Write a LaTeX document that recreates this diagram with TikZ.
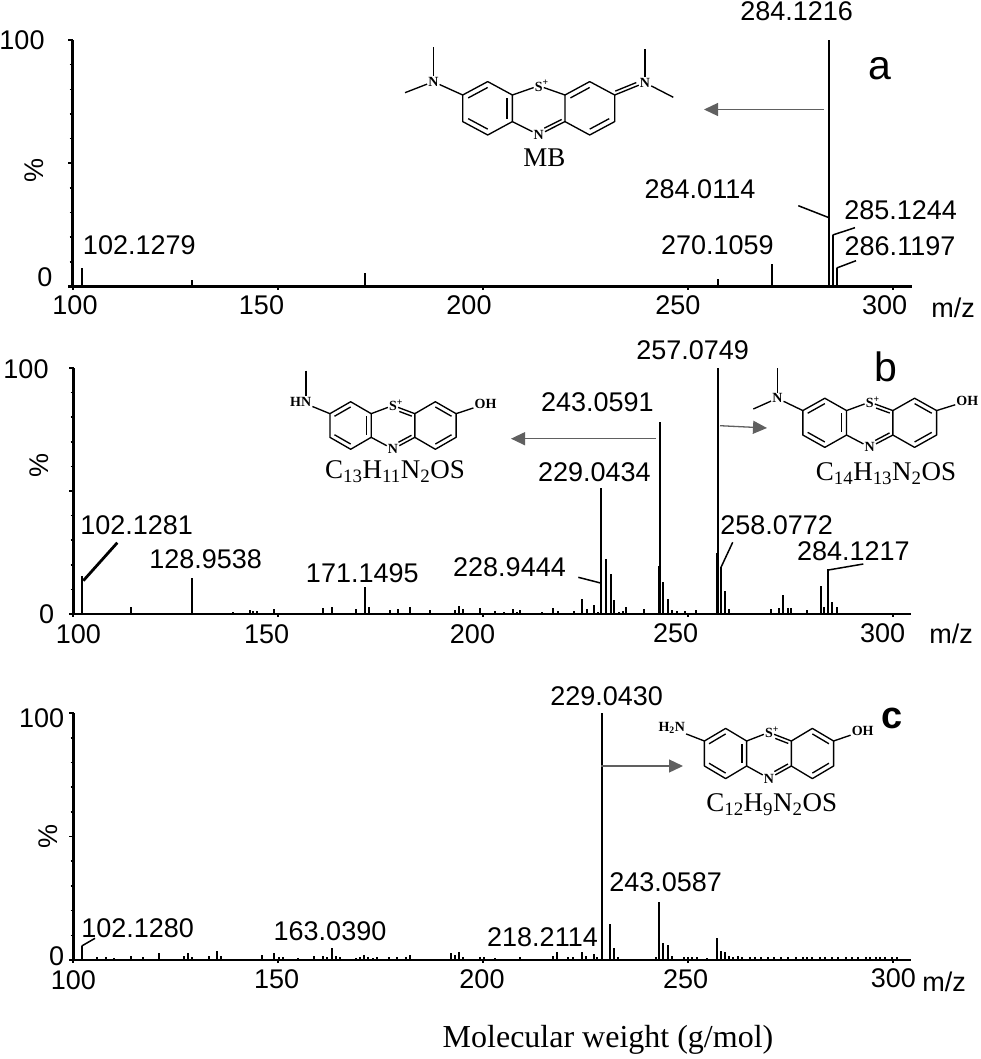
\documentclass[tikz,border=0pt]{standalone}
\usepackage{fontspec}
\setmainfont{Liberation Sans}
\newfontfamily\molfont{Liberation Serif}
\usetikzlibrary{arrows.meta}
\usetikzlibrary{calc}
\definecolor{arrowgray}{HTML}{606060}

% scaffold shared by all the structures: name, centre x, centre y, xscale, yscale
\newcommand{\ringcore}[5]{
 \begin{scope}[shift={(#2,#3)}, xscale=#4, yscale=#5]
  \coordinate (#1_l1) at (-76,-13.3);
  \coordinate (#1_l2) at (-51,-26.7);
  \coordinate (#1_l3) at (-26.3,-13.3);
  \coordinate (#1_l4) at (-26.3,13.3);
  \coordinate (#1_l5) at (-51,26.7);
  \coordinate (#1_l6) at (-76,13.3);
  \coordinate (#1_lc) at (-51,0);
  \coordinate (#1_r1) at (26.3,-13.3);
  \coordinate (#1_r2) at (51,-26.7);
  \coordinate (#1_r3) at (76,-13.3);
  \coordinate (#1_r4) at (76,13.3);
  \coordinate (#1_r5) at (51,26.7);
  \coordinate (#1_r6) at (26.3,13.3);
  \coordinate (#1_rc) at (51,0);
  \node [atom] (#1_S) at (0,-22.5) {S\rlap{\textsuperscript{+}}};
  \node [atom] (#1_N) at (0,26.5) {N};
 \end{scope}
 \draw [bond, line join=round] (#1_l1) -- (#1_l2) -- (#1_l3) -- (#1_l4) -- (#1_l5) -- (#1_l6) -- cycle;
 \draw [bond, line join=round] (#1_r1) -- (#1_r2) -- (#1_r3) -- (#1_r4) -- (#1_r5) -- (#1_r6) -- cycle;
 \draw [bond] (#1_S) -- (#1_l3);
 \draw [bond] (#1_N) -- (#1_l4);
 \draw [bond] (#1_S) -- (#1_r1);
 \draw [bond] (#1_N) -- (#1_r6);
 \inbond{#1_lc}{#1_l1}{#1_l2}
 \inbond{#1_lc}{#1_l3}{#1_l4}
 \inbond{#1_lc}{#1_l5}{#1_l6}
 \outbond{#1_N}{#1_r6}{3.4pt}
}
\newcommand{\inbond}[3]{\draw [bond] ($(#1)!.78!(#2)$) -- ($(#1)!.78!(#3)$);}
\newcommand{\outbond}[3]{\draw [bond, shorten <=8pt, shorten >=2pt] ($(#1)!#3!90:(#2)$) -- ($(#2)!#3!-90:(#1)$);}

\begin{document}
\begin{tikzpicture}[x=1pt, y=-1pt,
  axisline/.style={line width=2.2pt},
  peak/.style={line width=1.9pt},
  leader/.style={line width=1.5pt},
  bond/.style={line width=1.35pt},
  paths/.style={-{Triangle[length=14pt,width=13pt]}, line width=1.3pt, draw=arrowgray},
  mass/.style={inner sep=0pt, font=\fontsize{27}{30}\selectfont},
  tag/.style={inner sep=0pt, font=\fontsize{41}{44}\selectfont},
  formula/.style={inner sep=0pt, font=\molfont\fontsize{27}{30}\selectfont},
  atom/.style={inner sep=1pt, font=\molfont\bfseries\fontsize{14}{15}\selectfont}]

 \useasboundingbox (0,0) rectangle (980,1059);

 % axes of the three spectra
 \foreach \axx/\axtop/\axbase/\axend in {72.5/40/286.5/912, 73.5/368/614/911, 73.5/713/960/911} {
   \draw [axisline] (\axx,\axtop) -- (\axx,\axbase);
   \draw [axisline] (\axx-4.5,\axbase) -- (\axend,\axbase);
   \foreach \tick in {0,10,...,100} {
     \pgfmathsetmacro{\ticky}{\axbase+(\axtop-\axbase)*(\tick/100)}
     \draw [line width=1.6pt] (\axx-3,\ticky) -- (\axx,\ticky);
   }
   \draw [line width=1.6pt] (\axx-4.5,\axtop) -- (\axx,\axtop);
   \draw [line width=1.6pt] (\axx-4.5,{(\axtop+\axbase)/2}) -- (\axx,{(\axtop+\axbase)/2});
   \foreach \tx in {73,278,483,688,893}
     \draw [line width=1.6pt] (\tx,\axbase) -- (\tx,\axbase+3);
 }

 % spectrum a
 \foreach \px/\ptop in {81.7/268, 191.7/280, 365/273, 718.3/279.3, 771.7/264.3,
   829/40, 832.7/235, 836.7/268}
   \draw [peak] (\px,286.5) -- (\px,\ptop);

 % spectrum b
 \foreach \px/\ptop in {82/576, 131/606.7, 192.3/578.3, 233.3/612.3, 250/610, 253.3/611,
   257.3/611, 274/608.7, 323.3/608.3, 332.3/607.3, 356/608.7, 365.3/586.7, 369/607.3,
   390/610, 397.7/609.3, 410/607.3, 430/610, 455/610, 459.3/606, 463.3/609.3, 480/608.3,
   495/610.7, 504/611.7, 512.7/609.3, 516.7/611.7, 520/610, 541.7/612, 553.3/607.7,
   558.3/611, 574/610.7, 582.3/599.3, 586.7/608.7, 594.3/605.3, 598.3/611.7, 601/488.3,
   606/559, 610.7/574.3, 614.3/600, 619/611.7, 623.3/610.7, 626/607.3, 644.3/609.3,
   659/566, 660.3/422.3, 663.3/581.7, 667.7/599.3, 672.3/610, 676.7/611, 685/610.7,
   696/610, 716.7/552.7, 717.7/367.7, 721/566.7, 725.3/591, 729.3/609.3, 770.7/609,
   778.7/607.7, 783/595, 787.7/608.3, 790.7/607.7, 807.3/610, 820.7/585.7, 824.3/607.3,
   828.3/569.3, 832/602.3, 836.7/607.3}
   \draw [peak] (\px,614) -- (\px,\ptop);

 % spectrum c
 \foreach \px/\ptop in {81.7/946, 97.3/956.7, 106/956.7, 114.3/957.7, 130.7/956, 142.7/957,
   159.3/953.3, 184/956, 188.3/953.3, 192.3/956.7, 209.3/956, 216.7/951, 221/956,
   261.7/955.3, 274/952.7, 279.3/956.7, 282.7/957.3, 298.3/957.7, 314.3/956, 323.3/956,
   327.3/957.3, 331.7/947.7, 336/956, 340/957.3, 356/957.7, 360/957.3, 364.3/955.3,
   368.3/957.3, 372.7/957.7, 376.7/957.3, 389.3/956.7, 397.3/956.7, 406/956.7, 410/955,
   450.7/953.3, 455/955, 459.3/951.7, 463.3/956.7, 480/957.3, 484/956.7, 495/957.7,
   520/957.3, 552.7/955.7, 557.3/952, 568.3/957.3, 573.3/956.7, 581.7/952, 586/956,
   594/954, 597.3/957.3, 601.7/713.3, 610/924.3, 614/948.3, 618.3/956.7, 655.7/956.7,
   659/901.7, 663.3/943.3, 667.7/945, 671.7/956, 684.3/957.3, 688.3/957.3, 692.3/957.3,
   696.7/957.3, 707.3/957.7, 716.7/938.3, 720.7/951, 725/951.7, 729.3/956, 733.3/956.7,
   737.7/955.7, 742/957.3}
   \draw [peak] (\px,960) -- (\px,\ptop);
 \foreach \px in {750,755,761,768,774,781,788,796,803,807,812,820,825,832,838,846,852,858,
   866,870,876,880,885,892,897}
   \draw [line width=1.3pt] (\px,960) -- (\px,957.3);

 % axis numbers and names
 \foreach \lx/\ly/\ltext/\lname in {22/40/100/a100, 45/277/0/a0, 75/305/100/ax1, 261.5/305/150/ax2,
   469/305/200/ax3, 677.8/305/250/ax4, 884.7/305/300/ax5,
   26/369/100/b100, 46.7/614.3/0/b0, 78.3/634/100/bx1, 266.7/634/150/bx2,
   472.5/634/200/bx3, 675.7/633/250/bx4, 882.7/633/300/bx5,
   41.7/718.3/100/c100, 56.7/956/0/c0, 73.3/980/100/cx1, 276.7/979.3/150/cx2,
   482/979.3/200/cx3, 685.7/979.3/250/cx4, 893.3/978.3/300/cx5}
   \node [mass] (num_\lname) at (\lx,\ly) {\ltext};

 \node [mass] (mz_a) at (953,308) {m/z};
 \node [mass] (mz_b) at (951,634) {m/z};
 \node [mass] (mz_c) at (944,981.7) {m/z};

 \node [mass, rotate=90] (pct_a) at (34,170) {\%};
 \node [mass, rotate=90] (pct_b) at (39.3,465) {\%};
 \node [mass, rotate=90] (pct_c) at (48.3,836.7) {\%};

 \node [tag] (tag_a) at (880,69) {a};
 \node [tag] (tag_b) at (885.7,367) {b};
 \node [tag, font=\bfseries\fontsize{38}{40}\selectfont] (tag_c) at (891.7,718) {c};

 % peak labels
 \node [mass] (mass_a1) at (796.7,11.7) {284.1216};
 \node [mass] (mass_a2) at (700,189) {284.0114};
 \node [mass] (mass_a3) at (900.7,210) {285.1244};
 \node [mass] (mass_a4) at (900,246.7) {286.1197};
 \node [mass] (mass_a5) at (717.3,245) {270.1059};
 \node [mass] (mass_a6) at (139.3,245) {102.1279};

 \node [mass] (mass_b1) at (692.7,350.7) {257.0749};
 \node [mass] (mass_b2) at (597.3,402.7) {243.0591};
 \node [mass] (mass_b3) at (594.3,472.7) {229.0434};
 \node [mass] (mass_b4) at (776.7,525.7) {258.0772};
 \node [mass] (mass_b5) at (853.3,551) {284.1217};
 \node [mass] (mass_b6) at (509.5,567.3) {228.9444};
 \node [mass] (mass_b7) at (136.7,525) {102.1281};
 \node [mass] (mass_b8) at (205.7,559.3) {128.9538};
 \node [mass] (mass_b9) at (362.3,572.7) {171.1495};

 \node [mass] (mass_c1) at (606.7,696) {229.0430};
 \node [mass] (mass_c2) at (665.7,881.7) {243.0587};
 \node [mass] (mass_c3) at (542.5,936.7) {218.2114};
 \node [mass] (mass_c4) at (330,930.7) {163.0390};
 \node [mass] (mass_c5) at (137.7,928.3) {102.1280};

 % leaders from the labels to their peaks
 \coordinate (lead_a2) at (798.3,205.7);
 \coordinate (peak_a2) at (829,217.7);
 \coordinate (lead_a3) at (855,227.7);
 \coordinate (peak_a3) at (832.7,235);
 \coordinate (lead_a4) at (856,260.7);
 \coordinate (peak_a4) at (836.7,268);
 \coordinate (lead_b4) at (732.7,542.3);
 \coordinate (peak_b4) at (721,567.3);
 \coordinate (lead_b5) at (863.3,564);
 \coordinate (peak_b5) at (828.3,570);
 \coordinate (lead_b6) at (578.3,577.3);
 \coordinate (peak_b6) at (601.7,583.3);
 \coordinate (lead_b7) at (117.3,542.7);
 \coordinate (peak_b7) at (83.3,580.7);
 \coordinate (lead_c5) at (95,938.3);
 \coordinate (peak_c5) at (81.7,946);

 \draw [leader] (lead_a2) -- (peak_a2);
 \draw [leader] (lead_a3) -- (peak_a3);
 \draw [leader] (lead_a4) -- (peak_a4);
 \draw [leader] (lead_b4) -- (peak_b4);
 \draw [leader] (lead_b5) -- (peak_b5);
 \draw [leader] (lead_b6) -- (peak_b6);
 \draw [line width=2.8pt] (lead_b7) -- (peak_b7);
 \draw [leader] (lead_c5) -- (peak_c5);

 % structure MB
 \ringcore{mb}{538.7}{108.3}{1}{1}
 \inbond{mb_rc}{mb_r1}{mb_r2}
 \inbond{mb_rc}{mb_r4}{mb_r5}
 \node [atom] (mb_NL) at (433.3,81.7) {N};
 \node [atom] (mb_NR) at (645,82.7) {N};
 \coordinate (mb_me1) at (433.3,46.7);
 \coordinate (mb_me2) at (405,92.7);
 \coordinate (mb_me3) at (645,49.3);
 \coordinate (mb_me4) at (673.3,97.3);
 \draw [bond] (mb_NL) -- (mb_l1);
 \draw [bond] (mb_NL) -- (mb_me1);
 \draw [bond] (mb_NL) -- (mb_me2);
 \draw [bond] (mb_NR) -- (mb_r3);
 \draw [bond] (mb_NR) -- (mb_me3);
 \draw [bond] (mb_NR) -- (mb_me4);
 \outbond{mb_NR}{mb_r3}{-3.4pt}
 \node [formula] (mb_name) at (544.3,157.3) {MB};

 % structure C13
 \ringcore{ct}{393}{425.5}{.83}{.89}
 \inbond{ct_rc}{ct_r2}{ct_r3}
 \inbond{ct_rc}{ct_r4}{ct_r5}
 \outbond{ct_S}{ct_r1}{-3.4pt}
 \node [atom] (ct_HN) at (300.7,401.7) {HN};
 \node [atom] (ct_OH) at (485.5,404) {OH};
 \coordinate (ct_me) at (306,370.7);
 \draw [bond] (ct_HN) -- (ct_l1);
 \draw [bond] (ct_OH) -- (ct_r3);
 \draw [bond] (ct_me) -- (ct_me |- ct_HN.north);
 \node [formula] (ct_name) at (395,471.7) {C\textsubscript{13}H\textsubscript{11}N\textsubscript{2}OS};

 % structure C14
 \ringcore{cf}{869.7}{422.8}{.88}{.92}
 \inbond{cf_rc}{cf_r2}{cf_r3}
 \inbond{cf_rc}{cf_r4}{cf_r5}
 \outbond{cf_S}{cf_r1}{-3.4pt}
 \node [atom] (cf_NL) at (777.3,398.3) {N};
 \node [atom] (cf_OH) at (967.3,401) {OH};
 \coordinate (cf_me1) at (777.3,367.7);
 \coordinate (cf_me2) at (753.3,409);
 \draw [bond] (cf_NL) -- (cf_l1);
 \draw [bond] (cf_NL) -- (cf_me1);
 \draw [bond] (cf_NL) -- (cf_me2);
 \draw [bond] (cf_OH) -- (cf_r3);
 \node [formula] (cf_name) at (886,474) {C\textsubscript{14}H\textsubscript{13}N\textsubscript{2}OS};

 % structure C12
 \ringcore{cd}{769}{753.5}{.85}{.94}
 \inbond{cd_rc}{cd_r2}{cd_r3}
 \inbond{cd_rc}{cd_r4}{cd_r5}
 \outbond{cd_S}{cd_r1}{-3.4pt}
 \node [atom] (cd_HN) at (671.7,728.3) {H\textsubscript{2}N};
 \node [atom] (cd_OH) at (862.7,731) {OH};
 \draw [bond] (cd_HN) -- (cd_l1);
 \draw [bond] (cd_OH) -- (cd_r3);
 \node [formula] (cd_name) at (771.7,805) {C\textsubscript{12}H\textsubscript{9}N\textsubscript{2}OS};

 % arrows from the peaks to the structures
 \coordinate (from_a) at (824,109.5);
 \coordinate (to_a) at (704,109.5);
 \coordinate (from_b1) at (655.5,438.7);
 \coordinate (to_b1) at (511,438.7);
 \coordinate (from_b2) at (720,425.7);
 \coordinate (to_b2) at (767,428);
 \coordinate (from_c) at (601,766);
 \coordinate (to_c) at (683,766);

 \draw [paths] (from_a) -- (to_a);
 \draw [paths] (from_b1) -- (to_b1);
 \draw [paths] (from_b2) -- (to_b2);
 \draw [paths] (from_c) -- (to_c);

 \node [formula, font=\molfont\fontsize{32}{35}\selectfont] (axis_title) at (608,1040) {Molecular weight (g/mol)};

\end{tikzpicture}
\end{document}
